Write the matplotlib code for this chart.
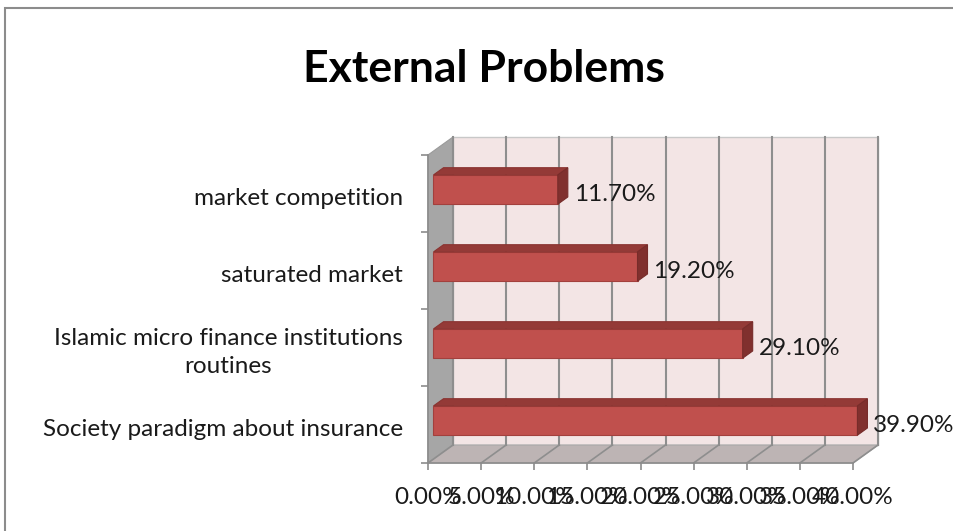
import matplotlib
matplotlib.use("Agg")
import matplotlib.pyplot as plt
from matplotlib.patches import Polygon, Rectangle

# ---- data ----
categories = ["Society paradigm about insurance",
              "Islamic micro finance institutions\nroutines",
              "saturated market",
              "market competition"]
values = [39.9, 29.1, 19.2, 11.7]
value_labels = ["39.90%", "29.10%", "19.20%", "11.70%"]
tick_values = [0, 5, 10, 15, 20, 25, 30, 35, 40]
tick_labels = ["0.00%", "5.00%", "10.00%", "15.00%", "20.00%",
               "25.00%", "30.00%", "35.00%", "40.00%"]
title = "External Problems"

plt.rcParams['font.family'] = ['Lato', 'DejaVu Sans']

W, H = 954, 531
fig = plt.figure(figsize=(W / 100, H / 100), dpi=100)
fig.patch.set_facecolor('white')

# front plane of the 3D box (pixels)
px0, px1 = 428, 853
py_top, py_bot = 155, 463
ax = fig.add_axes([px0 / W, 1 - py_bot / H, (px1 - px0) / W, (py_bot - py_top) / H])
xmax = tick_values[-1]
n = len(categories)
ax.set_xlim(0, xmax)
ax.set_ylim(-0.5, n - 0.5)
ax.patch.set_visible(False)

# depth offset expressed in data units
ddx = 25 / ((px1 - px0) / xmax)
ddy = 18 / ((py_bot - py_top) / n)
y0, y1 = -0.5, n - 0.5

grid_c = '#8E8E8E'
# back wall
ax.add_patch(Polygon([(ddx, y0 + ddy), (xmax + ddx, y0 + ddy), (xmax + ddx, y1 + ddy), (ddx, y1 + ddy)],
                     closed=True, fc='#F3E5E5', ec='#C8C8C8', lw=1.0, clip_on=False, zorder=1))
# left wall
ax.add_patch(Polygon([(0, y0), (ddx, y0 + ddy), (ddx, y1 + ddy), (0, y1)],
                     closed=True, fc='#A6A6A6', ec='#9A9A9A', lw=0.8, clip_on=False, zorder=1))
# floor
ax.add_patch(Polygon([(0, y0), (xmax, y0), (xmax + ddx, y0 + ddy), (ddx, y0 + ddy)],
                     closed=True, fc='#BDB4B4', ec='#A8A8A8', lw=0.8, clip_on=False, zorder=1))
# gridlines on back wall + floor
for t in tick_values:
    ax.plot([t + ddx, t + ddx], [y0 + ddy, y1 + ddy], color=grid_c, lw=1.5, clip_on=False, zorder=2)
    ax.plot([t, t + ddx], [y0, y0 + ddy], color=grid_c, lw=1.2, clip_on=False, zorder=2)

# bars
f0, f1 = 0.22, 0.62
h = 0.38
for i, (v, lab) in enumerate(zip(values, value_labels)):
    c = i
    bx0 = f0 * ddx
    by0 = c - h / 2 + f0 * ddy
    by1 = c + h / 2 + f0 * ddy
    bx1 = bx0 + v
    ex, ey = (f1 - f0) * ddx, (f1 - f0) * ddy
    ax.add_patch(Polygon([(bx0, by0), (bx1, by0), (bx1, by1), (bx0, by1)], closed=True,
                         fc='#C0504D', ec='#A3403D', lw=0.8, clip_on=False, zorder=5))
    ax.add_patch(Polygon([(bx0, by1), (bx1, by1), (bx1 + ex, by1 + ey), (bx0 + ex, by1 + ey)], closed=True,
                         fc='#943A37', ec='#8A3330', lw=0.8, clip_on=False, zorder=5))
    ax.add_patch(Polygon([(bx1, by0), (bx1 + ex, by0 + ey), (bx1 + ex, by1 + ey), (bx1, by1)], closed=True,
                         fc='#80302E', ec='#772C2A', lw=0.8, clip_on=False, zorder=5))
    ax.annotate(lab, xy=(bx1 + ex, c), xytext=(6, -1), textcoords='offset pixels',
                ha='left', va='center', fontsize=17.5, color='#1a1a1a', zorder=6,
                annotation_clip=False)

# category labels
for i, cat in enumerate(categories):
    ax.annotate(cat, xy=(0, i), xytext=(-25, -5), textcoords='offset pixels',
                ha='right', va='center', multialignment='center', linespacing=1.45,
                fontsize=17.5, color='#1a1a1a', annotation_clip=False)

# axes spines / ticks
for s in ['top', 'right']:
    ax.spines[s].set_visible(False)
for s in ['left', 'bottom']:
    ax.spines[s].set_color('#8C8C8C')
    ax.spines[s].set_linewidth(1.2)
    ax.spines[s].set_zorder(3)
ax.set_xticks(tick_values)
ax.set_xticklabels(tick_labels, fontsize=17.5, color='#1a1a1a')
ax.tick_params(axis='x', direction='out', length=5, width=1.2, color='#8C8C8C', pad=12)
ax.set_yticks([k - 0.5 for k in range(n + 1)])
ax.set_yticklabels([])
ax.tick_params(axis='y', which='major', direction='out', length=5, width=1.2, color='#8C8C8C')

fig.text(484 / W, 1 - 69 / H, title, ha='center', va='center', fontsize=32,
         fontweight='bold', color='black')

# outer chart border (partly cut off)
fig.add_artist(Rectangle((5 / W, -0.1), 1.2, 1 - 8 / H + 0.1, transform=fig.transFigure,
                         fill=False, ec='#8C8C8C', lw=1.5))

fig.savefig('out.png', dpi=100)
